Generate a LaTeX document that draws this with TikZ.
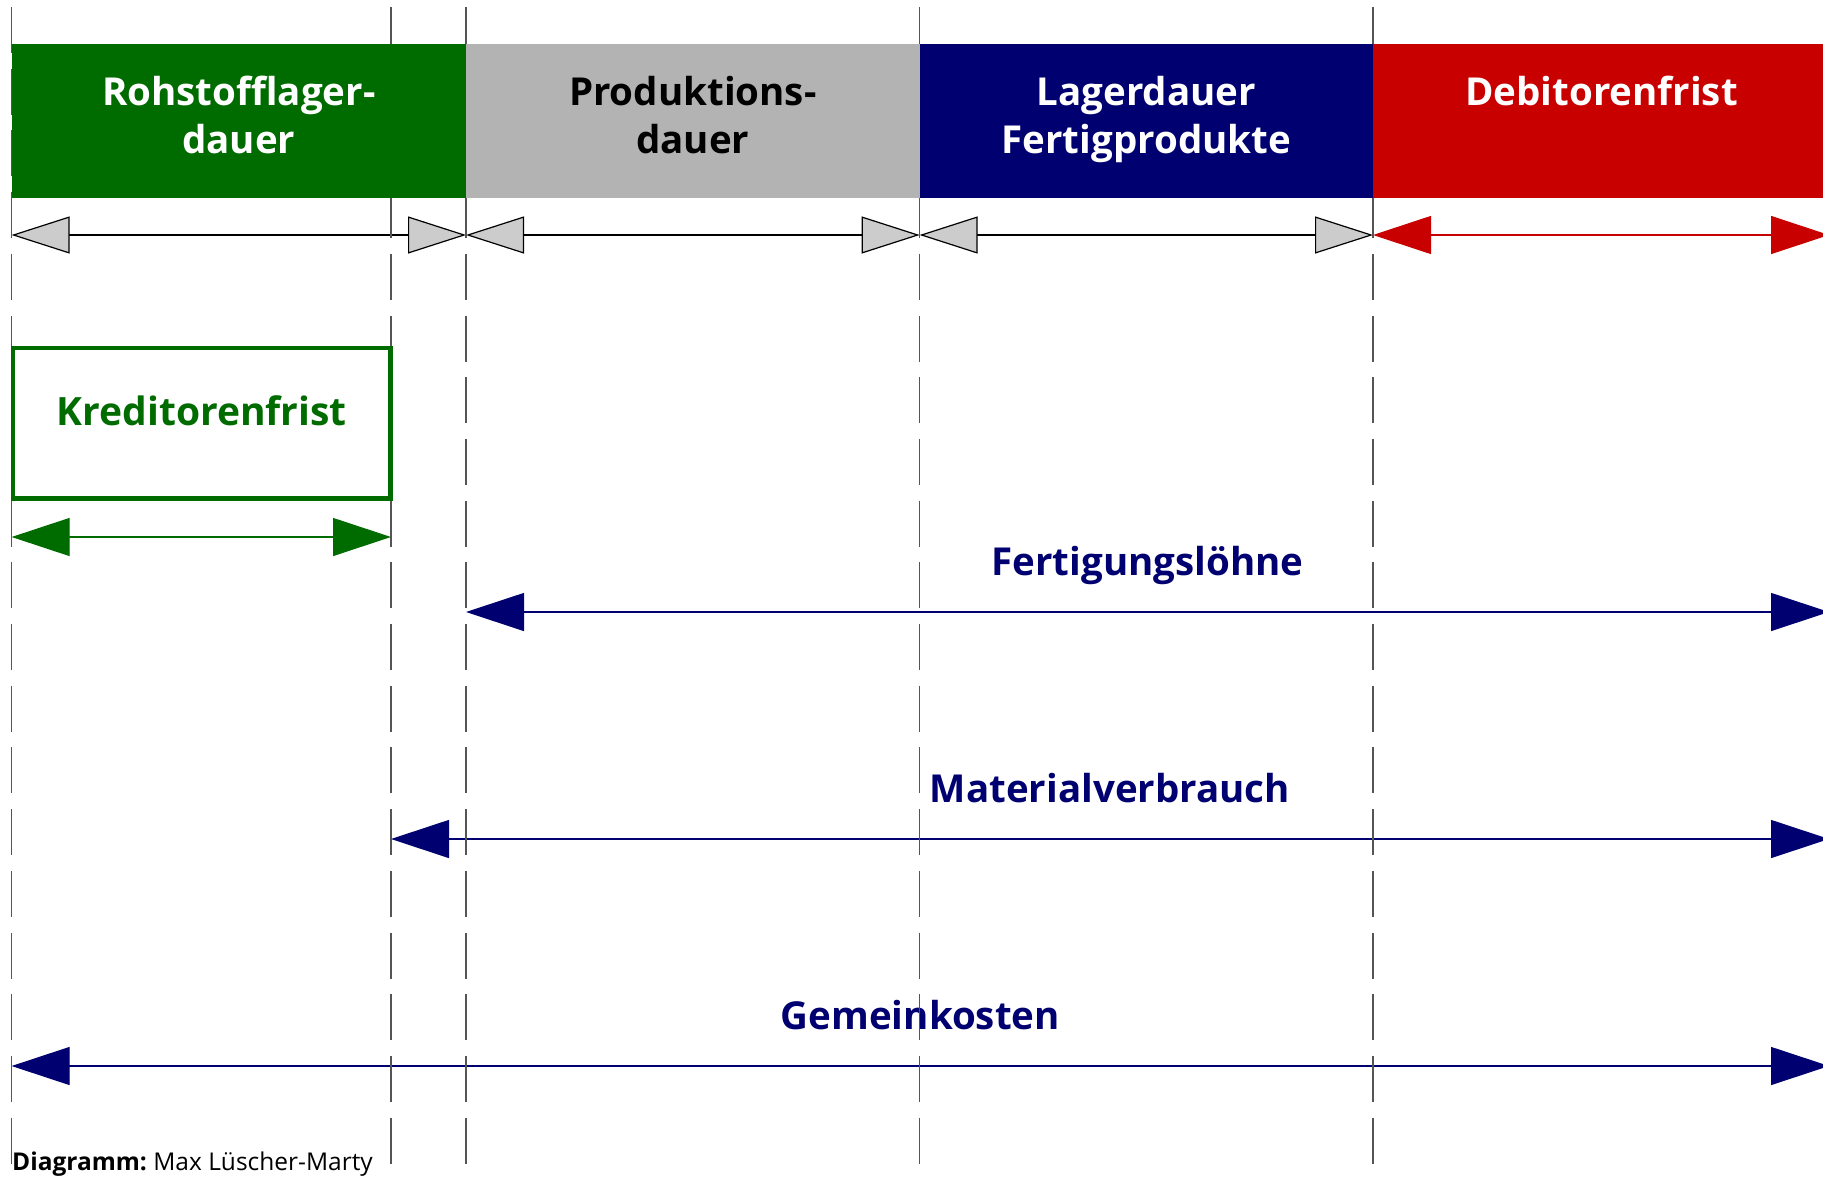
\documentclass[tikz,border=0pt]{standalone}
\usepackage{fontspec}
\setmainfont{Open Sans}
\usetikzlibrary{arrows.meta}

\definecolor{rohgreen}{RGB}{0,108,0}
\definecolor{prodgray}{RGB}{179,179,179}
\definecolor{lagnavy}{RGB}{0,0,112}
\definecolor{debred}{RGB}{200,0,0}
\definecolor{tipgray}{RGB}{204,204,204}
\definecolor{gridgray}{RGB}{85,85,85}

\begin{document}
\begin{tikzpicture}[x=1pt,y=-1pt,
  phasebar/.style={rectangle,inner sep=0pt,outer sep=0pt,draw=none,anchor=north west,minimum height=154pt},
  phasetitle/.style={anchor=base,align=center,inner sep=0pt,font=\fontsize{38.5}{48}\selectfont\bfseries},
  flowlabel/.style={anchor=base,inner sep=0pt,yshift=37pt,text=lagnavy,font=\fontsize{38.5}{45}\selectfont\bfseries},
  gridline/.style={draw=gridgray,line width=1.6pt,dash pattern=on 46pt off 15.7pt},
  spangray/.style={draw=black,line width=1.2pt,line join=miter,
    {Triangle[length=58pt,width=37pt,fill=tipgray]}-{Triangle[length=58pt,width=37pt,fill=tipgray]}},
  spanfill/.style={draw=#1,line width=1.2pt,
    {Triangle[length=58pt,width=38pt,color=#1]}-{Triangle[length=58pt,width=38pt,color=#1]}},
]
\useasboundingbox (0,0) rectangle (1823,1178);
\clip (0,0) rectangle (1823,1178);

% end points of the phase spans below the bars
\coordinate (p0) at (11.6,235);
\coordinate (p1) at (466,235);
\coordinate (p2) at (919.6,235);
\coordinate (p3) at (1373,235);
\coordinate (p4) at (1829,235);

% end points of the cash spans
\coordinate (k0) at (11.6,537);
\coordinate (k1) at (391,537);
\coordinate (f0) at (466,612);
\coordinate (f1) at (1829,612);
\coordinate (m0) at (391,839);
\coordinate (m1) at (1829,839);
\coordinate (g0) at (11.6,1066);
\coordinate (g1) at (1829,1066);

% cash spans with their labels
\draw[spanfill=lagnavy] (f0) -- (f1) node[flowlabel,midway] (fert) {Fertigungslöhne};
\draw[spanfill=lagnavy] (m0) -- (m1) node[flowlabel,midway] (mat) {Materialverbrauch};
\draw[spanfill=lagnavy] (g0) -- (g1) node[flowlabel,midway] (gem) {Gemeinkosten};
\draw[spanfill=rohgreen] (k0) -- (k1);

% phase spans
\draw[spangray] (p0) -- (p1);
\draw[spangray] (p1) -- (p2);
\draw[spangray] (p2) -- (p3);
\draw[spanfill=debred] (p3) -- (p4);

% dashed time marks
\foreach \x in {11.6,391,466,919.6,1373}
  \draw[gridline] (\x,7) -- (\x,1178);

% phase bars
\node[phasebar,fill=rohgreen,minimum width=454.4pt] (roh) at (11.6,44) {};
\node[phasebar,fill=prodgray,minimum width=453.6pt] (prod) at (466,44) {};
\node[phasebar,fill=lagnavy,minimum width=453.4pt] (lag) at (919.6,44) {};
\node[phasebar,fill=debred,minimum width=457pt] (deb) at (1373,44) {};

% titles: the base anchor sits on the last line
\node[phasetitle,text=white] (rohtitle) at ([yshift=-109pt]roh.north) {Rohstofflager-\\dauer};
\node[phasetitle,text=black] (prodtitle) at ([yshift=-109pt]prod.north) {Produktions-\\dauer};
\node[phasetitle,text=white] (lagtitle) at ([yshift=-109pt]lag.north) {Lagerdauer\\Fertigprodukte};
\node[phasetitle,text=white] (debtitle) at ([yshift=-61pt]deb.north) {Debitorenfrist};

% creditor period box
\node[rectangle,draw=rohgreen,line width=4.5pt,fill=white,inner sep=0pt,
  minimum width=377.5pt,minimum height=150.5pt] (kred) at (201.75,423.25) {};
\node[anchor=base,inner sep=0pt,text=rohgreen,font=\fontsize{39}{45}\selectfont\bfseries]
  (kredtitle) at (201.75,425) {Kreditorenfrist};

% credit line
\node[anchor=base west,inner sep=0pt,font=\fontsize{24.5}{28}\selectfont] (credit) at (12,1170)
  {\textbf{Diagramm:}~Max Lüscher-Marty};
\end{tikzpicture}
\end{document}
